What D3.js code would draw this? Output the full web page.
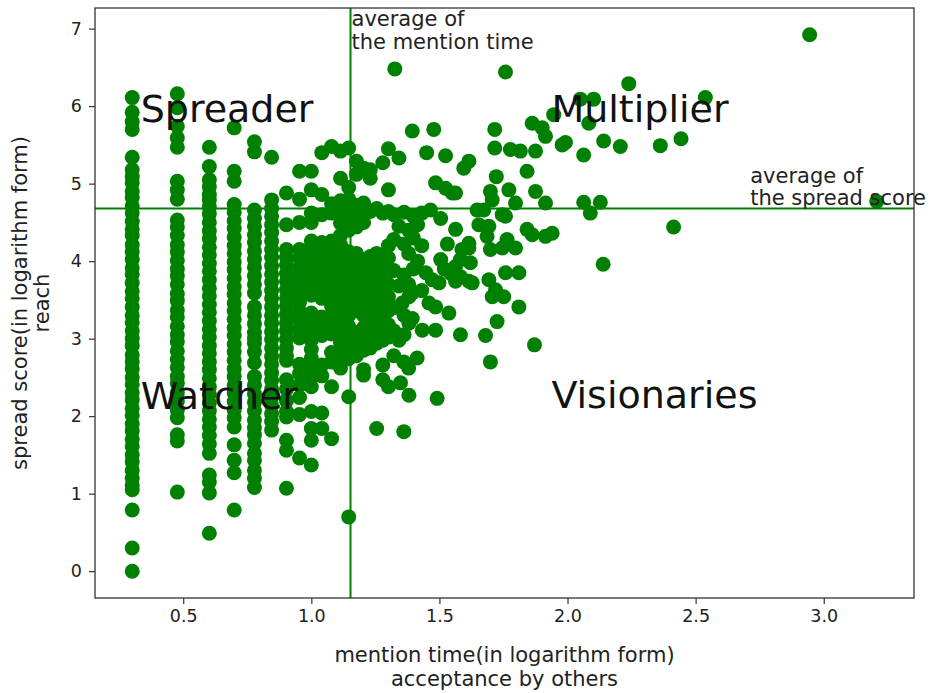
<!DOCTYPE html>
<html>
<head>
<meta charset="utf-8">
<script src="https://cdn.jsdelivr.net/npm/d3@7"></script>
<style>
  body { margin: 0; background: #fff; }
  svg { display: block; font-family: "DejaVu Sans", sans-serif; }
</style>
</head>
<body>
<svg id="chart" width="932" height="693"></svg>
<script>
// log10 of the mention count for each integer count 2..20 (these form vertical stripes)
const mentionLog = [0.301, 0.477, 0.602, 0.699, 0.778, 0.845, 0.903, 0.954, 1.0, 1.041,
                    1.079, 1.114, 1.146, 1.176, 1.204, 1.230, 1.255, 1.279, 1.301];

// spread scores (log form) of the accounts in each stripe
const spreadByColumn = [
  [6.11, 5.92, 5.80, 5.70, 5.34, 5.18, 5.09, 5.01, 4.90, 4.82, 4.71, 4.62, 4.51, 4.41, 4.33, 4.21,
   4.12, 4.02, 3.91, 3.83, 3.72, 3.61, 3.52, 3.41, 3.30, 3.21, 3.10, 3.00, 2.91, 2.79, 2.70, 2.61,
   2.50, 2.41, 2.30, 2.21, 2.10, 2.01, 1.90, 1.81, 1.70, 1.61, 1.50, 1.41, 1.30, 1.20, 1.11, 1.05,
   0.79, 0.30, 0.00],
  [6.16, 5.98, 5.74, 5.59, 5.47, 5.03, 4.92, 4.80, 4.53, 4.44, 4.33, 4.21, 4.12, 4.01, 3.90, 3.81,
   3.70, 3.58, 3.49, 3.37, 3.28, 3.16, 3.05, 2.96, 2.84, 2.73, 2.63, 2.51, 2.42, 2.30, 2.19, 2.08,
   1.98, 1.76, 1.68, 1.02],
  [5.47, 5.22, 5.05, 4.96, 4.86, 4.79, 4.70, 4.61, 4.50, 4.39, 4.29, 4.18, 4.08, 3.97, 3.87, 3.76,
   3.65, 3.55, 3.44, 3.34, 3.23, 3.12, 3.02, 2.91, 2.81, 2.70, 2.60, 2.49, 2.38, 2.28, 2.17, 2.07,
   1.96, 1.86, 1.75, 1.64, 1.52, 1.24, 1.15, 1.01, 0.49],
  [5.72, 5.16, 5.03, 4.73, 4.63, 4.52, 4.42, 4.31, 4.20, 4.10, 3.99, 3.89, 3.78, 3.67, 3.57, 3.46,
   3.36, 3.25, 3.14, 3.04, 2.93, 2.83, 2.72, 2.61, 2.51, 2.40, 2.30, 2.19, 2.08, 1.98, 1.86, 1.63,
   1.43, 1.27, 0.79],
  [5.54, 5.41, 4.66, 4.55, 4.45, 4.34, 4.24, 4.13, 4.02, 3.92, 3.81, 3.70, 3.59, 3.41, 3.30, 3.19,
   3.08, 3.00, 2.94, 2.83, 2.69, 2.51, 2.40, 2.29, 2.18, 2.07, 1.95, 1.85, 1.76, 1.65, 1.52, 1.43,
   1.30, 1.20, 1.08],
  [5.34, 4.79, 4.68, 4.58, 4.47, 4.37, 4.26, 4.15, 4.05, 3.94, 3.83, 3.73, 3.62, 3.52, 3.41, 3.30,
   3.20, 3.09, 2.99, 2.88, 2.77, 2.67, 2.56, 2.46, 2.35, 2.24, 2.14, 2.03, 1.93, 1.82],
  [4.88, 4.47, 4.15, 4.05, 3.95, 3.84, 3.74, 3.63, 3.52, 3.42, 3.31, 3.20, 3.10, 2.99, 2.88, 2.78,
   2.72, 2.47, 2.35, 2.20, 2.06, 1.99, 1.69, 1.56, 1.07],
  [5.16, 4.80, 4.50, 4.15, 4.04, 3.92, 3.81, 3.70, 3.58, 3.47, 3.35, 3.24, 3.12,
   3.01, 2.67, 2.55, 2.40, 2.24, 2.02, 1.46],
  [5.16, 4.92, 4.62, 4.50, 4.26, 4.15, 4.03, 3.91, 3.80, 3.68, 3.56, 3.33, 3.21, 3.10,
   2.98, 2.86, 2.75, 2.63, 2.50, 2.38, 2.06, 1.84, 1.69, 1.37],
  [5.40, 4.86, 4.60, 4.24, 4.12, 4.00, 3.88, 3.76, 3.64, 3.52, 3.28, 3.16, 3.04,
   2.66, 2.52, 2.04, 1.84],
  [5.48, 4.74, 4.62, 4.26, 4.14, 4.02, 3.90, 3.78, 3.66, 3.54, 3.42, 3.30, 3.18, 3.06,
   2.82, 2.70, 2.38, 1.71],
  [5.42, 5.07, 4.78, 4.62, 4.49, 4.33, 4.21, 4.05, 3.92, 3.77, 3.66, 3.50, 3.38, 3.22, 3.10, 2.95,
   2.80, 2.62],
  [5.46, 4.95, 4.80, 4.66, 4.55, 4.40, 4.12, 3.98, 3.85, 3.70, 3.58, 3.44, 3.30, 3.16, 3.02,
   2.88, 2.74, 2.25, 0.70],
  [5.29, 5.12, 4.72, 4.57, 4.44, 4.10, 3.95, 3.82, 3.68, 3.52, 3.36, 3.08, 2.92, 2.78],
  [5.20, 4.75, 4.63, 4.50, 4.02, 3.88, 3.72, 3.60, 3.45, 3.30, 3.14, 3.00, 2.85, 2.60, 2.53],
  [5.18, 5.07, 4.64, 4.06, 3.92, 3.78, 3.62, 3.48, 3.32, 3.18, 3.04, 2.88],
  [4.68, 4.10, 3.96, 3.82, 3.66, 3.52, 3.38, 3.22, 3.08, 2.94, 1.84],
  [5.27, 4.62, 4.05, 3.90, 3.74, 3.58, 3.44, 3.28, 3.12, 2.98, 2.66, 2.47],
  [5.45, 4.92, 4.64, 4.20, 4.04, 3.86, 3.70, 3.54, 3.36, 3.18, 3.02, 2.38]
];

// accounts with larger mention counts: [mention time, spread score], both log form
const loosePoints = [
  [2.945, 6.92], [3.207, 4.77], [2.414, 4.44], [2.362, 5.49], [2.443, 5.58], [2.538, 6.11],
  [2.239, 6.29], [2.050, 6.09], [2.102, 6.09], [2.083, 5.78], [1.992, 5.53], [2.141, 5.55],
  [2.206, 5.48], [2.063, 5.37], [2.063, 4.76], [2.128, 4.76], [2.089, 4.62], [2.139, 3.96],
  [1.758, 6.44], [1.326, 6.48], [1.946, 5.89], [1.862, 5.78], [1.901, 5.72], [1.914, 5.61],
  [1.716, 5.70], [1.979, 5.50], [1.716, 5.46], [1.777, 5.44], [1.816, 5.42], [1.875, 5.42],
  [1.615, 5.29], [1.595, 5.20], [1.842, 5.16], [1.722, 5.09], [1.771, 4.92], [1.699, 4.90],
  [1.706, 4.79], [1.875, 4.90], [1.914, 4.75], [1.797, 4.75], [1.563, 4.88], [1.647, 4.66],
  [1.673, 4.66], [1.745, 4.60], [1.758, 4.58], [1.563, 4.41], [1.654, 4.47], [1.693, 4.45],
  [1.686, 4.32], [1.842, 4.41], [1.862, 4.34], [1.914, 4.32], [1.940, 4.36], [1.764, 4.28],
  [1.797, 4.17], [1.699, 4.15], [1.615, 4.17], [1.745, 4.17], [1.621, 3.98], [1.582, 4.02],
  [1.758, 3.85], [1.810, 3.85], [1.693, 3.76], [1.615, 3.74], [1.582, 3.80], [1.719, 3.63],
  [1.751, 3.54], [1.706, 3.54], [1.810, 3.41], [1.725, 3.22], [1.582, 3.05], [1.680, 3.04],
  [1.871, 2.92], [1.699, 2.70], [1.394, 5.68], [1.478, 5.70], [1.450, 5.40], [1.524, 5.36],
  [1.342, 5.33], [1.485, 5.01], [1.524, 4.94], [1.550, 4.88], [1.465, 4.66], [1.361, 1.80],
  [1.381, 2.27], [1.491, 2.23], [1.348, 2.43], [1.361, 2.70], [1.413, 2.75], [1.485, 3.11],
  [1.433, 3.11], [1.381, 3.20], [1.394, 3.26], [1.537, 3.33], [1.485, 3.41], [1.459, 3.46],
  [1.355, 3.46], [1.381, 3.54], [1.394, 3.59], [1.563, 3.74], [1.472, 3.76], [1.498, 3.72],
  [1.588, 4.15], [1.615, 4.23], [1.563, 3.93], [1.628, 3.72],
  [1.322, 4.60], [1.362, 4.63], [1.398, 4.58], [1.431, 4.62], [1.505, 4.55],
  [1.342, 4.45], [1.380, 4.40], [1.415, 4.47],
  [1.322, 4.28], [1.362, 4.22], [1.398, 4.30], [1.431, 4.20], [1.531, 4.22],
  [1.380, 4.10], [1.415, 4.00], [1.505, 4.02],
  [1.322, 3.88], [1.362, 3.82], [1.398, 3.90], [1.447, 3.85], [1.519, 3.90], [1.544, 3.84],
  [1.342, 3.68], [1.380, 3.70], [1.431, 3.62], [1.322, 3.40], [1.362, 3.30],
  [1.322, 3.10], [1.342, 2.98], [1.362, 3.05], [1.322, 2.78], [1.380, 2.62]
];

const meanMention = 1.153;
const meanSpread = 4.68;

const xTickValues = [0.5, 1.0, 1.5, 2.0, 2.5, 3.0];
const yTickValues = [0, 1, 2, 3, 4, 5, 6, 7];

const quadrantNames = ["Spreader", "Multiplier", "Watcher", "Visionaries"];
const xTitleLines = ["mention time(in logarithm form)", "acceptance by others"];
const yTitleLines = ["spread score(in logarithm form)", "reach"];
const mentionNote = ["average of", "the mention time"];
const spreadNote = ["average of", "the spread score"];

// ---- build point list ----
const points = mentionLog
  .flatMap((mx, i) => spreadByColumn[i].map(s => [mx, s]))
  .concat(loosePoints);

const plot = { left: 95, right: 914, top: 8, bottom: 598 };
const green = "#008000";

// 5% padding around the data, like matplotlib's autoscaling
function padded(ext) {
  const span = ext[1] - ext[0];
  return [ext[0] - 0.05 * span, ext[1] + 0.05 * span];
}
const x = d3.scaleLinear()
  .domain(padded(d3.extent(points, d => d[0])))
  .range([plot.left, plot.right]);
const y = d3.scaleLinear()
  .domain(padded(d3.extent(points, d => d[1])))
  .range([plot.bottom, plot.top]);

const svg = d3.select("#chart");

// scatter
svg.append("g")
  .selectAll("circle")
  .data(points)
  .join("circle")
  .attr("cx", d => x(d[0]))
  .attr("cy", d => y(d[1]))
  .attr("r", 7.5)
  .attr("fill", green);

// mean reference lines
svg.append("line")
  .attr("x1", x(meanMention)).attr("x2", x(meanMention))
  .attr("y1", plot.top).attr("y2", plot.bottom)
  .attr("stroke", green).attr("stroke-width", 2);
svg.append("line")
  .attr("x1", plot.left).attr("x2", plot.right)
  .attr("y1", y(meanSpread)).attr("y2", y(meanSpread))
  .attr("stroke", green).attr("stroke-width", 2);

// axes
const tickColor = "#333";
const xAxis = svg.append("g")
  .attr("transform", `translate(0,${plot.bottom})`)
  .call(d3.axisBottom(x).tickValues(xTickValues).tickFormat(d3.format(".1f"))
    .tickSize(6).tickPadding(6));
const yAxis = svg.append("g")
  .attr("transform", `translate(${plot.left},0)`)
  .call(d3.axisLeft(y).tickValues(yTickValues).tickFormat(d3.format("d"))
    .tickSize(6).tickPadding(7));
[xAxis, yAxis].forEach(g => {
  g.select(".domain").remove();
  g.selectAll(".tick line").attr("stroke", tickColor).attr("stroke-width", 1.2);
  g.selectAll(".tick text")
    .attr("fill", "#222")
    .style("font-family", "'DejaVu Sans', sans-serif")
    .style("font-size", "17.5px");
});

// frame
svg.append("rect")
  .attr("x", plot.left).attr("y", plot.top)
  .attr("width", plot.right - plot.left).attr("height", plot.bottom - plot.top)
  .attr("fill", "none").attr("stroke", "#333").attr("stroke-width", 1.3);

// axis titles
const titleSize = 21;
const xTitle = svg.append("text")
  .attr("text-anchor", "middle")
  .attr("fill", "#222")
  .style("font-size", titleSize + "px");
xTitleLines.forEach((t, i) => {
  xTitle.append("tspan")
    .attr("x", (plot.left + plot.right) / 2)
    .attr("y", 662 + i * 24)
    .text(t);
});
const yMid = (plot.top + plot.bottom) / 2;
const yTitle = svg.append("text")
  .attr("text-anchor", "middle")
  .attr("fill", "#222")
  .attr("transform", `translate(0,${yMid}) rotate(-90)`)
  .style("font-size", titleSize + "px");
yTitleLines.forEach((t, i) => {
  yTitle.append("tspan")
    .attr("x", 0)
    .attr("y", 27 + i * 22)
    .text(t);
});

// notes on the mean lines
const noteSize = 21;
const mentionText = svg.append("text")
  .attr("fill", "#222").style("font-size", noteSize + "px");
mentionNote.forEach((t, i) => {
  mentionText.append("tspan")
    .attr("x", x(meanMention) + 1)
    .attr("y", 26 + i * 23)
    .text(t);
});
const spreadText = svg.append("text")
  .attr("fill", "#222").style("font-size", noteSize + "px");
spreadNote.forEach((t, i) => {
  spreadText.append("tspan")
    .attr("x", x(2.713))
    .attr("y", y(meanSpread) - 3 - (spreadNote.length - 1 - i) * 22)
    .text(t);
});

// quadrant names
const quadrantAnchors = [[0.334, 5.80], [1.937, 5.80], [0.334, 2.09], [1.937, 2.10]];
svg.append("g")
  .selectAll("text")
  .data(quadrantNames)
  .join("text")
  .attr("x", (d, i) => x(quadrantAnchors[i][0]))
  .attr("y", (d, i) => y(quadrantAnchors[i][1]))
  .attr("fill", "#111")
  .style("font-size", "38px")
  .text(d => d);
</script>
</body>
</html>
